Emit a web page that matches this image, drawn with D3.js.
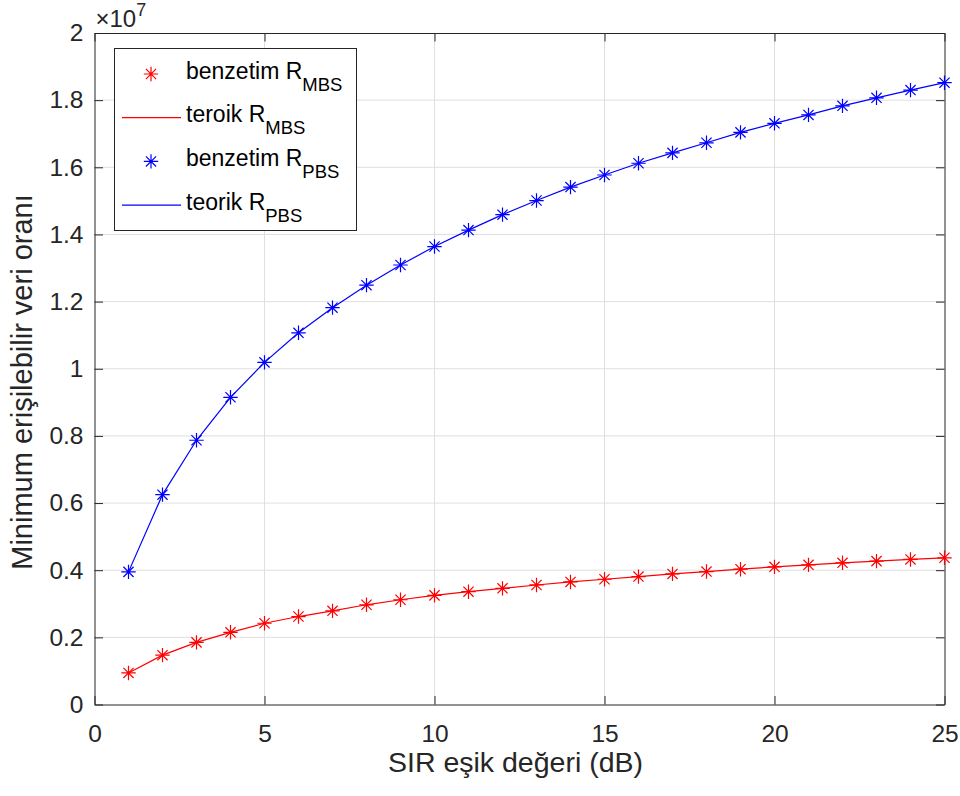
<!DOCTYPE html>
<html>
<head>
<meta charset="utf-8">
<script src="https://cdn.jsdelivr.net/npm/d3@7"></script>
<style>
  body { margin: 0; background: #fff; }
  svg { font-family: "Liberation Sans", Arial, Helvetica, sans-serif; }
</style>
</head>
<body>
<svg width="960" height="796"></svg>
<script>
// SIR threshold (dB)
const sir = d3.range(1, 26);
// simulated / theoretical minimum rate, x 1e7
const rMBS = [0.094, 0.147, 0.185, 0.215, 0.242, 0.262, 0.279, 0.297, 0.312, 0.325,
              0.336, 0.346, 0.356, 0.365, 0.373, 0.381, 0.389, 0.396, 0.403, 0.410,
              0.416, 0.422, 0.427, 0.432, 0.437];
const rPBS = [0.395, 0.625, 0.787, 0.915, 1.019, 1.107, 1.182, 1.249, 1.309, 1.364,
              1.413, 1.459, 1.501, 1.541, 1.577, 1.612, 1.643, 1.673, 1.704, 1.731,
              1.756, 1.783, 1.807, 1.830, 1.852];
const xTicks = [0, 5, 10, 15, 20, 25];
const yTicks = [0, 0.2, 0.4, 0.6, 0.8, 1, 1.2, 1.4, 1.6, 1.8, 2];

const series = [
  {name: "MBS", values: rMBS, color: "#ff0000"},
  {name: "PBS", values: rPBS, color: "#0000ff"}
];

const svg = d3.select("svg");
const margin = {top: 33, right: 15.5, bottom: 91.5, left: 94.5};
const width = +svg.attr("width"), height = +svg.attr("height");
const axisColor = "#262626";

const x = d3.scaleLinear().domain([0, 25]).range([margin.left, width - margin.right]);
const y = d3.scaleLinear().domain([0, 2]).range([height - margin.bottom, margin.top]);

// grid
const grid = svg.append("g").attr("stroke", "#dfdfdf").attr("stroke-width", 1);
grid.selectAll(".gx").data(xTicks.slice(1, -1)).join("line")
  .attr("x1", d => x(d)).attr("x2", d => x(d))
  .attr("y1", y(0)).attr("y2", y(2));
grid.selectAll(".gy").data(yTicks.slice(1, -1)).join("line")
  .attr("y1", d => y(d)).attr("y2", d => y(d))
  .attr("x1", x(0)).attr("x2", x(25));

// axes (ticks pointing inward, MATLAB style)
const tl = 8.5;
const fmt = d => d === 0 ? "0" : String(+d.toFixed(1));
const xAxis = svg.append("g")
  .attr("transform", `translate(0,${y(0)})`)
  .call(d3.axisBottom(x).tickValues(xTicks).tickSizeInner(-tl).tickSizeOuter(0).tickPadding(20).tickFormat(d3.format("d")));
const yAxis = svg.append("g")
  .attr("transform", `translate(${x(0)},0)`)
  .call(d3.axisLeft(y).tickValues(yTicks).tickSizeInner(-tl).tickSizeOuter(0).tickPadding(11).tickFormat(fmt));
const xTop = svg.append("g")
  .attr("transform", `translate(0,${y(2)})`)
  .call(d3.axisTop(x).tickValues(xTicks).tickSizeInner(-tl).tickSizeOuter(0).tickFormat(""));
const yRight = svg.append("g")
  .attr("transform", `translate(${x(25)},0)`)
  .call(d3.axisRight(y).tickValues(yTicks).tickSizeInner(-tl).tickSizeOuter(0).tickFormat(""));
[xAxis, yAxis, xTop, yRight].forEach(g => {
  g.select(".domain").attr("stroke", axisColor);
  g.selectAll(".tick line").attr("stroke", axisColor);
  g.selectAll(".tick text").attr("fill", axisColor).style("font-size", "24.5px").style("font-family", "inherit");
});

// exponent label
const ex = svg.append("text").attr("x", x(0) + 1).attr("y", 27)
  .attr("fill", axisColor).style("font-size", "24px");
ex.append("tspan").text("\u00d710");
ex.append("tspan").attr("dy", -11).style("font-size", "18px").text("7");

// axis titles
svg.append("text").attr("x", 515.5).attr("y", 772)
  .attr("text-anchor", "middle").attr("fill", axisColor).style("font-size", "28.5px")
  .text("SIR eşik değeri (dB)");
svg.append("text")
  .attr("transform", `translate(32,382) rotate(-90)`)
  .attr("text-anchor", "middle").attr("fill", axisColor).style("font-size", "29px")
  .text("Minimum erişilebilir veri oranı");

// asterisk marker
function star(g, cx, cy, color, r) {
  const a = r * Math.SQRT1_2;
  const p = `M${cx - r},${cy}L${cx + r},${cy}M${cx},${cy - r}L${cx},${cy + r}` +
            `M${cx - a},${cy - a}L${cx + a},${cy + a}M${cx - a},${cy + a}L${cx + a},${cy - a}`;
  g.append("path").attr("d", p).attr("stroke", color).attr("stroke-width", 1.2).attr("fill", "none");
}

const line = d3.line().x((d, i) => x(sir[i])).y(d => y(d));
series.forEach(s => {
  svg.append("path").datum(s.values)
    .attr("d", line).attr("fill", "none").attr("stroke", s.color).attr("stroke-width", 1.2);
  const mg = svg.append("g");
  s.values.forEach((v, i) => star(mg, x(sir[i]), y(v), s.color, 7.2));
});

// legend
const lg = svg.append("g");
lg.append("rect").attr("x", 114.5).attr("y", 48.5).attr("width", 242).attr("height", 182)
  .attr("fill", "#fff").attr("stroke", axisColor).attr("stroke-width", 1);
const rows = [
  {label: "benzetim R", sub: "MBS", color: "#ff0000", kind: "marker"},
  {label: "teroik R", sub: "MBS", color: "#ff0000", kind: "line"},
  {label: "benzetim R", sub: "PBS", color: "#0000ff", kind: "marker"},
  {label: "teorik R", sub: "PBS", color: "#0000ff", kind: "line"}
];
rows.forEach((r, i) => {
  const cy = 74 + i * 43.7;
  if (r.kind === "marker") star(lg, 151, cy, r.color, 7.2);
  else lg.append("line").attr("x1", 122).attr("x2", 181).attr("y1", cy).attr("y2", cy)
    .attr("stroke", r.color).attr("stroke-width", 1.2);
  const t = lg.append("text").attr("x", 186).attr("y", cy + 4.5).attr("fill", "#000").style("font-size", "23px");
  t.append("tspan").text(r.label);
  t.append("tspan").attr("dy", 12).style("font-size", "18.5px").text(r.sub);
});
</script>
</body>
</html>
